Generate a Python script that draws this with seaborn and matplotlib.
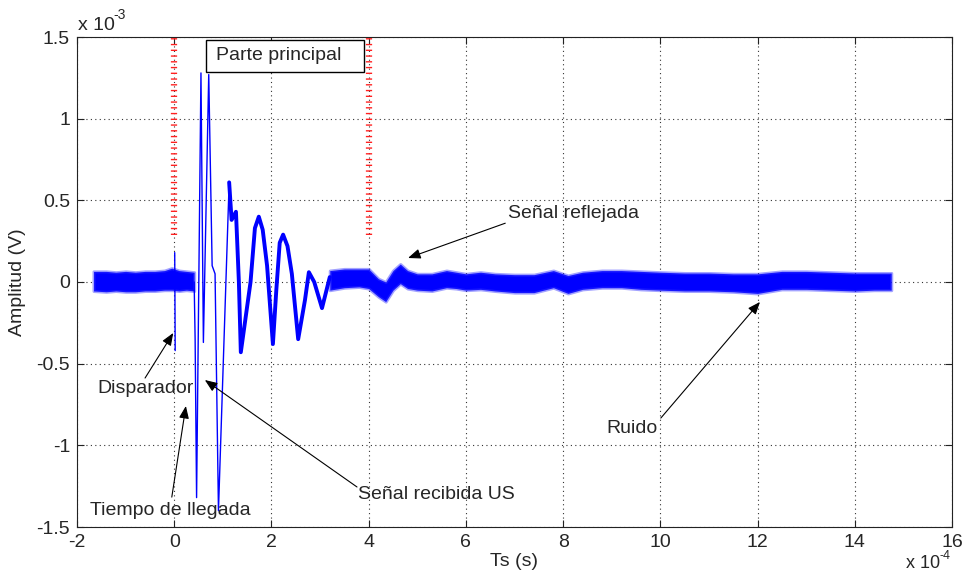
import matplotlib
matplotlib.use("Agg")
import matplotlib.pyplot as plt
import seaborn as sns
import pandas as pd
from matplotlib.patches import Rectangle

# ---------------- data (x in 1e-4 s, y in 1e-3 V) ----------------
x_ticks = [-2, 0, 2, 4, 6, 8, 10, 12, 14, 16]
x_tick_labels = ["-2", "0", "2", "4", "6", "8", "10", "12", "14", "16"]
y_ticks = [-1.5, -1, -0.5, 0, 0.5, 1, 1.5]
y_tick_labels = ["-1.5", "-1", "-0.5", "0", "0.5", "1", "1.5"]

# pre-trigger noise envelope
pre_t = [-1.66, -1.4, -1.2, -1.0, -0.8, -0.6, -0.4, -0.2, -0.05, 0.1, 0.25, 0.41]
pre_hi = [0.065, 0.065, 0.06, 0.065, 0.06, 0.065, 0.065, 0.07, 0.085, 0.07, 0.065, 0.06]
pre_lo = [-0.055, -0.06, -0.055, -0.06, -0.06, -0.055, -0.055, -0.05, -0.05, -0.055, -0.05, -0.055]

# trigger spike
trig_t = [0.01, 0.02]
trig_v = [0.18, -0.42]

# main burst (thin part)
burst_t = [0.41, 0.43, 0.46, 0.55, 0.60, 0.71, 0.78, 0.84, 0.91, 1.13]
burst_v = [0.0, -0.35, -1.32, 1.28, -0.37, 1.27, 0.10, 0.05, -1.40, 0.61]

# damped oscillation (noisy, thick part)
wave_t = [1.13, 1.18, 1.27, 1.33, 1.37, 1.57, 1.66, 1.74, 1.82, 1.91, 2.03, 2.10,
          2.17, 2.24, 2.33, 2.42, 2.55, 2.69, 2.77, 2.88, 3.04, 3.2]
wave_v = [0.61, 0.38, 0.43, 0.0, -0.43, 0.0, 0.33, 0.40, 0.32, 0.10, -0.38, -0.05,
          0.24, 0.29, 0.22, 0.05, -0.35, -0.11, 0.06, 0.0, -0.16, 0.03]

# post-burst noise envelope
post_t = [3.2, 3.5, 3.8, 4.0, 4.2, 4.35, 4.5, 4.65, 4.8, 5.0, 5.3, 5.6, 5.8, 6.0, 6.3,
          6.6, 7.0, 7.4, 7.8, 8.1, 8.4, 8.8, 9.2, 9.6, 10.0, 10.5, 11.0, 11.5, 12.0,
          12.5, 13.0, 13.5, 14.0, 14.4, 14.75]
post_hi = [0.07, 0.08, 0.08, 0.08, 0.02, 0.0, 0.07, 0.11, 0.07, 0.05, 0.05, 0.07, 0.06,
           0.05, 0.06, 0.05, 0.045, 0.045, 0.07, 0.04, 0.06, 0.07, 0.07, 0.065, 0.06, 0.055,
           0.055, 0.05, 0.05, 0.065, 0.065, 0.06, 0.055, 0.055, 0.055]
post_lo = [-0.05, -0.035, -0.03, -0.04, -0.09, -0.12, -0.05, -0.01, -0.04, -0.05, -0.055,
           -0.035, -0.04, -0.05, -0.045, -0.055, -0.065, -0.065, -0.035, -0.07, -0.045, -0.035,
           -0.035, -0.045, -0.05, -0.055, -0.055, -0.06, -0.07, -0.045, -0.045, -0.05, -0.055,
           -0.05, -0.05]

# "Parte principal" window markers
window_t = [0, 4]
window_v = [0.29, 1.5]

# ---------------- style ----------------
sns.set_theme(style="white")
plt.rcParams["font.family"] = ["Liberation Sans", "DejaVu Sans"]
FS = 14
BLUE = "#0000ff"

fig = plt.figure(figsize=(9.66, 5.72), dpi=100)
ax = fig.add_axes([77 / 966, 1 - 527 / 572, 875 / 966, 490 / 572])
ax.set_facecolor("white")

# noise bands
for tt, lo, hi in [(pre_t, pre_lo, pre_hi), (post_t, post_lo, post_hi)]:
    ax.fill_between(tt, lo, hi, color=BLUE, lw=2.2, edgecolor=(0.2, 0.2, 1, 0.45))

# trigger, burst and damped oscillation
sns.lineplot(x=trig_t, y=trig_v, ax=ax, color=BLUE, lw=1.0, sort=False, estimator=None)
sns.lineplot(x=burst_t, y=burst_v, ax=ax, color=BLUE, lw=1.0, sort=False, estimator=None)
sns.lineplot(x=wave_t, y=wave_v, ax=ax, color=BLUE, lw=2.8, sort=False, estimator=None)

# red dotted window markers
for t in window_t:
    ax.plot([t, t], window_v, color="#ff2020", lw=4.5, ls=(0, (0.22, 0.7)),
            dash_capstyle="butt", zorder=4)

# axes
ax.set_xlim(-2, 16)
ax.set_ylim(-1.5, 1.5)
ax.set_xticks(x_ticks)
ax.set_xticklabels(x_tick_labels, fontsize=FS)
ax.set_yticks(y_ticks)
ax.set_yticklabels(y_tick_labels, fontsize=FS)
ax.tick_params(direction="in", length=5, width=0.8, color="#222222",
               top=True, right=True, bottom=True, left=True, pad=5)
ax.grid(True, color="#333333", ls=(0, (1, 3)), lw=0.8)
for s in ax.spines.values():
    s.set_color("#222222")
    s.set_linewidth(0.8)
ax.set_xlabel("")
ax.set_ylabel("")

fig.text(514 / 966, 1 - 562 / 572, "Ts (s)", ha="center", va="center", fontsize=FS)
fig.text(18 / 966, 1 - 282 / 572, "Amplitud (V)", ha="center", va="center",
         rotation=90, fontsize=FS)

# exponent labels (MATLAB style)
fig.text(78 / 966, 1 - 25 / 572, "x 10", ha="left", va="center", fontsize=FS)
fig.text(113 / 966, 1 - 15 / 572, "-3", ha="left", va="center", fontsize=10)
fig.text(906 / 966, 1 - 564 / 572, "x 10", ha="left", va="center", fontsize=13)
fig.text(939 / 966, 1 - 556 / 572, "-4", ha="left", va="center", fontsize=9)

# "Parte principal" box
ax.add_patch(Rectangle((0.66, 1.286), 3.25, 0.198, facecolor="white",
                       edgecolor="black", lw=1.0, zorder=5))
ax.text(0.86, 1.385, "Parte principal", ha="left", va="center", fontsize=FS, zorder=6)

# annotations
arrow = dict(arrowstyle="-|>,head_length=0.75,head_width=0.3", color="black",
             lw=0.8, mutation_scale=10, shrinkA=0, shrinkB=0)
notes = [
    ("Señal reflejada", (6.87, 0.42), (6.81, 0.36), (4.81, 0.147)),
    ("Ruido", (8.90, -0.894), (10.01, -0.833), (12.05, -0.122)),
    ("Disparador", (-1.59, -0.649), (-0.60, -0.588), (-0.02, -0.312)),
    ("Tiempo de llegada", (-1.73, -1.396), (-0.05, -1.317), (0.24, -0.759)),
    ("Señal recibida US", (3.78, -1.304), (3.76, -1.255), (0.63, -0.60)),
]
for label, tpos, tail, tip in notes:
    ax.annotate("", xy=tip, xytext=tail, arrowprops=arrow, zorder=6)
    ax.text(tpos[0], tpos[1], label, ha="left", va="center", fontsize=FS, zorder=6)

fig.savefig("out.png", dpi=100, facecolor="white")
